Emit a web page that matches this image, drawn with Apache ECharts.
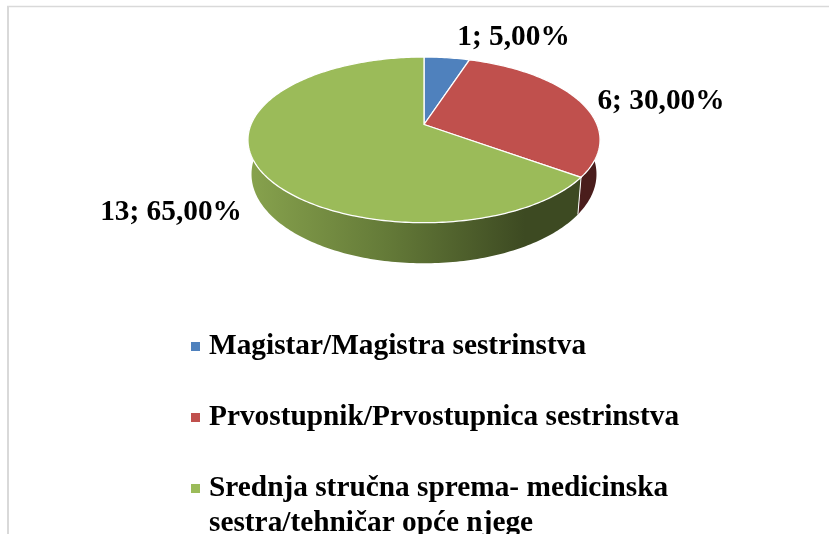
<!DOCTYPE html>
<html>
<head>
<meta charset="utf-8">
<style>
  html, body { margin: 0; padding: 0; background: #fff; }
  #main { width: 829px; height: 534px; }
</style>
<script src="https://cdn.jsdelivr.net/npm/echarts@6/dist/echarts.min.js"></script>
</head>
<body>
<div id="main"></div>
<script>
const categories = ['Magistar/Magistra sestrinstva', 'Prvostupnik/Prvostupnica sestrinstva', 'Srednja stručna sprema- medicinska\nsestra/tehničar opće njege']
const values = [1, 6, 13]
const colors = ['#4F81BD', '#C0504D', '#9BBB59']

const total = values.reduce((a, b) => a + b, 0)
const fontFamily = '"Liberation Serif", "Times New Roman", serif'

// perspective of the tilted disc, top face and bottom rim
const topDisc = { cx: 424, cy: 124.5, rx: 173, ry: 80 }
const bottomDisc = { cx: 424, cy: 157.7, rx: 169.5, ry: 86 }
const tilt = -0.1853
const wallFrom = 75
const wallTo = 285
const labelAnchors = [[513.5, 37], [661, 101], [171, 212]]

function project(disc, deg) {
  const a = deg * Math.PI / 180
  const u = Math.sin(a)
  const v = -Math.cos(a)
  const d = 1 + tilt * v
  return [disc.cx + disc.rx * u / d, disc.cy + disc.ry * v / d]
}

function arc(disc, from, to) {
  const pts = []
  const n = Math.max(2, Math.ceil(Math.abs(to - from)))
  for (let i = 0; i <= n; i++) pts.push(project(disc, from + (to - from) * i / n))
  return pts
}

function wallFill(index) {
  if (index === 1) return '#4A1D1C'
  return new echarts.graphic.LinearGradient(250, 0, 525, 0, [
    { offset: 0, color: '#87A24D' },
    { offset: 0.5, color: '#647A38' },
    { offset: 1, color: '#3D4A22' }
  ], true)
}

function renderSlice(index) {
  return function (params, api) {
    const before = values.slice(0, index).reduce((a, b) => a + b, 0)
    const start = before / total * 360
    const end = start + api.value(0) / total * 360
    const children = []
    const from = Math.max(start, wallFrom)
    const to = Math.min(end, wallTo)
    if (to > from) {
      children.push({
        type: 'polygon',
        shape: { points: arc(topDisc, from, to).concat(arc(bottomDisc, to, from)) },
        style: { fill: wallFill(index) }
      })
      if (start >= wallFrom) {
        children.push({
          type: 'line',
          shape: { x1: project(topDisc, start)[0], y1: project(topDisc, start)[1], x2: project(bottomDisc, start)[0], y2: project(bottomDisc, start)[1] },
          style: { stroke: '#fff', lineWidth: 1 }
        })
      }
    }
    children.push({
      type: 'polygon',
      shape: { points: [[topDisc.cx, topDisc.cy]].concat(arc(topDisc, start, end)) },
      style: { fill: colors[index], stroke: '#fff', lineWidth: 1.3, lineJoin: 'round' }
    })
    const pct = (api.value(0) / total * 100).toFixed(2).replace('.', ',')
    children.push({
      type: 'text',
      style: {
        x: labelAnchors[index][0],
        y: labelAnchors[index][1],
        text: api.value(0) + '; ' + pct + '%',
        fill: '#000',
        font: 'bold 29.33px ' + fontFamily,
        align: 'center',
        verticalAlign: 'middle'
      }
    })
    return { type: 'group', children: children }
  }
}

const legendText = { fontFamily: fontFamily, fontWeight: 'bold', fontSize: 29.33, color: '#000', lineHeight: 35, padding: [0, 0, 0, 4] }

let myChart = echarts.init(document.getElementById('main'))
myChart.setOption({
  animation: false,
  backgroundColor: '#fff',
  legend: [
    {
      orient: 'vertical',
      left: 186,
      top: 324,
      itemWidth: 9,
      itemHeight: 9,
      itemGap: 36,
      icon: 'rect',
      data: categories.slice(0, 2),
      textStyle: legendText
    },
    {
      // two line entry: marker stays on the first line
      orient: 'vertical',
      left: 186,
      top: 466,
      itemWidth: 9,
      itemHeight: 44,
      icon: 'path://M0 0H9V9H0Z M0 44H9',
      data: categories.slice(2),
      textStyle: legendText
    }
  ],
  graphic: [
    { type: 'line', silent: true, shape: { x1: 8, y1: 6, x2: 8, y2: 534 }, style: { stroke: '#D9D9D9', lineWidth: 2 } },
    { type: 'line', silent: true, shape: { x1: 7, y1: 6.5, x2: 829, y2: 6.5 }, style: { stroke: '#D9D9D9', lineWidth: 1.5 } }
  ],
  series: categories.map((name, i) => ({
    type: 'custom',
    name: name,
    coordinateSystem: 'none',
    itemStyle: { color: colors[i] },
    data: [[values[i]]],
    renderItem: renderSlice(i)
  }))
})
</script>
</body>
</html>
